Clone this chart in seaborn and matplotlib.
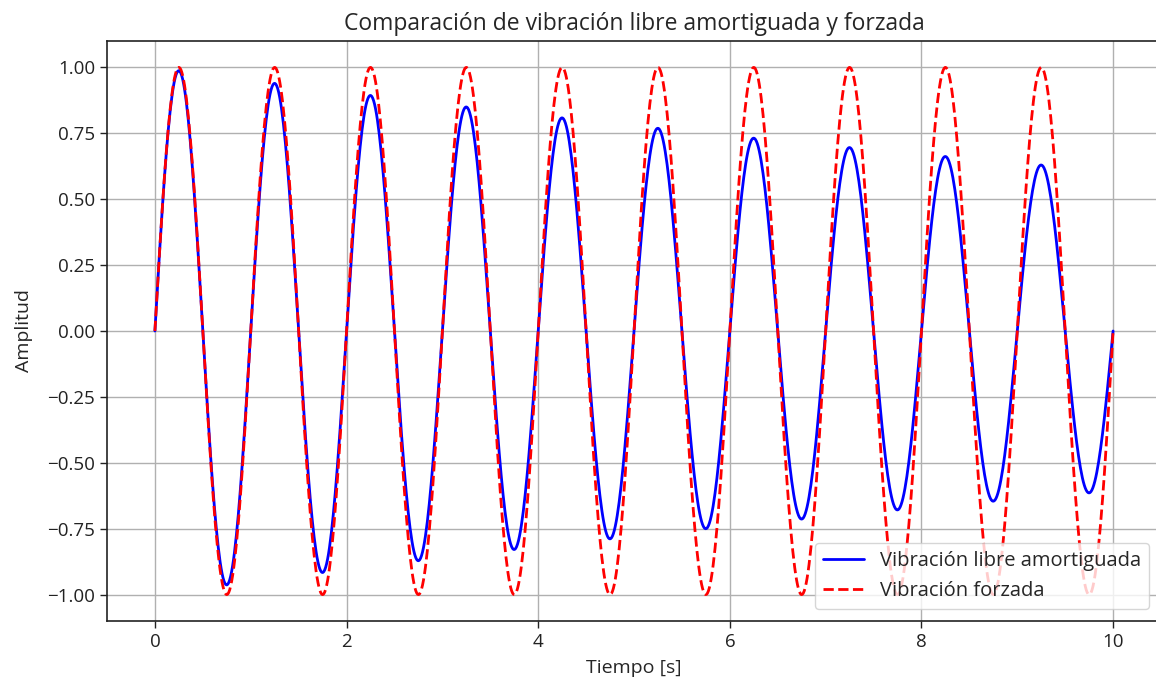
import numpy as np
import pandas as pd
import matplotlib
matplotlib.use("Agg")
import matplotlib.pyplot as plt
import seaborn as sns

# Model parameters of the two vibrations
frecuencia_hz = 1.0        # oscillation frequency [Hz]
amortiguamiento = 0.05     # exponential decay rate [1/s]
t_inicio, t_fin, n_puntos = 0.0, 10.0, 1000

titulo = "Comparación de vibración libre amortiguada y forzada"
etiqueta_x = "Tiempo [s]"
etiqueta_y = "Amplitud"
serie_libre = "Vibración libre amortiguada"
serie_forzada = "Vibración forzada"
ticks_x = [0, 2, 4, 6, 8, 10]
ticks_y = [-1.00, -0.75, -0.50, -0.25, 0.00, 0.25, 0.50, 0.75, 1.00]

t = np.linspace(t_inicio, t_fin, n_puntos)
omega = 2 * np.pi * frecuencia_hz
y_libre = np.exp(-amortiguamiento * t) * np.sin(omega * t)
y_forzada = np.sin(omega * t)

df = pd.DataFrame({"t": t, "libre": y_libre, "forzada": y_forzada})

sns.set_style("ticks")
plt.rcParams["font.family"] = ["Open Sans", "DejaVu Sans"]

fig = plt.figure(figsize=(11.56, 6.84), dpi=100)
ax = fig.add_axes([107 / 1156, 63 / 684, 1054 / 1156, 580 / 684])

sns.lineplot(data=df, x="t", y="libre", ax=ax, color="blue", linewidth=2,
             label=serie_libre)
sns.lineplot(data=df, x="t", y="forzada", ax=ax, color="red", linewidth=2,
             linestyle="--", label=serie_forzada)

ax.set_xlim(-0.5, 10.5)
ax.set_ylim(-1.1, 1.1)
ax.set_yticks(ticks_y)
ax.set_yticklabels([f"{v:.2f}".replace("-", "\u2212") for v in ticks_y])
ax.set_xticks(ticks_x)
ax.grid(True, color="#b0b0b0", linewidth=1)
ax.tick_params(labelsize=13.5, length=5, width=1, direction="out", colors="#222222")
for lbl in ax.get_xticklabels() + ax.get_yticklabels():
    lbl.set_color("#222222")

ax.set_title(titulo, fontsize=16.5, pad=8)
ax.set_xlabel(etiqueta_x, fontsize=14, labelpad=6)
ax.set_ylabel(etiqueta_y, fontsize=14, labelpad=10)
for s in ax.spines.values():
    s.set_color("#222222")
    s.set_linewidth(1.2)

ax.legend(loc="lower right", fontsize=14.5, framealpha=0.8, borderaxespad=0.6)

fig.savefig("out.png", dpi=100)
